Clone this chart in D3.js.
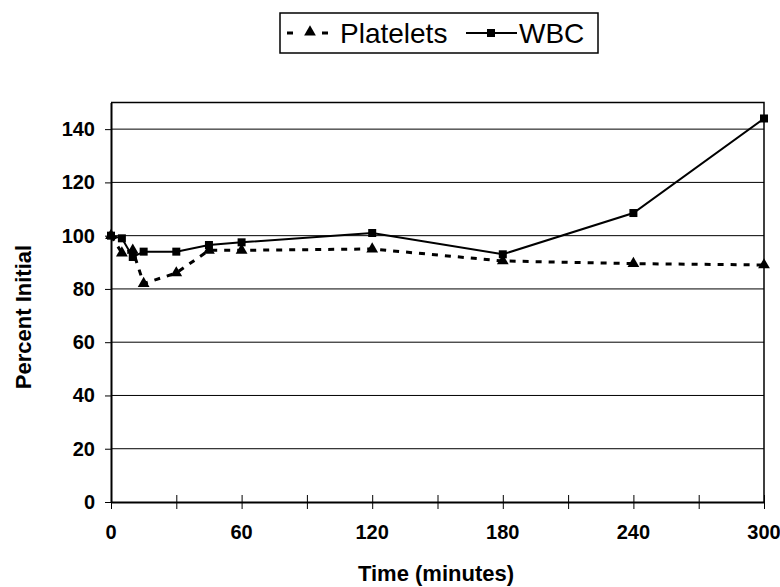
<html>
<head>
<style>
  body { margin: 0; background: #fff; }
  svg text { font-family: "Liberation Sans", Arial, sans-serif; fill: #000; }
  .axis text { font-weight: bold; font-size: 20px; }
  .grid line { stroke: #000; stroke-width: 1px; }
</style>
<script src="https://cdnjs.cloudflare.com/ajax/libs/d3/7.8.5/d3.min.js"></script>
</head>
<body>
<div id="chart"></div>
<script>
var times = [0, 5, 10, 15, 30, 45, 60, 120, 180, 240, 300];
var platelets = [100, 93.5, 94.5, 82, 86, 94.5, 94.5, 95, 90.5, 89.5, 89];
var wbc = [100, 99, 92, 94, 94, 96.5, 97.5, 101, 93, 108.5, 144];
var yTicks = [0, 20, 40, 60, 80, 100, 120, 140];
var xLabels = [0, 60, 120, 180, 240, 300];
var xMinor = [0, 30, 60, 90, 120, 150, 180, 210, 240, 270, 300];

var width = 780, height = 587;
var pLeft = 111, pRight = 764, pTop = 102.5, pBottom = 502;

var svg = d3.select('#chart').append('svg')
    .attr('width', width).attr('height', height);

var xScale = d3.scaleLinear().domain([0, 300]).range([pLeft, pRight]);
var yScale = d3.scaleLinear().domain([0, 150]).range([pBottom, pTop]);

// gridlines
svg.append('g').attr('class', 'grid')
    .selectAll('line').data(yTicks.filter(function(d){ return d > 0; }))
    .enter().append('line')
    .attr('x1', pLeft).attr('x2', pRight)
    .attr('y1', function(d){ return yScale(d); })
    .attr('y2', function(d){ return yScale(d); });

// plot frame (top / right)
svg.append('path')
    .attr('d', 'M' + pLeft + ',' + pTop + 'H' + pRight + 'V' + pBottom)
    .attr('fill', 'none').attr('stroke', '#000').attr('stroke-width', 1.5);

// y axis
var yAxis = d3.axisLeft(yScale).tickValues(yTicks).tickSize(6).tickPadding(10).tickSizeOuter(0);
var yG = svg.append('g').attr('class', 'axis')
    .attr('transform', 'translate(' + pLeft + ',0)').call(yAxis);
yG.select('.domain').attr('stroke-width', 2);

// x axis (ticks crossing the axis)
var xAxis = d3.axisBottom(xScale).tickValues(xMinor).tickSize(0).tickFormat('');
var xG = svg.append('g').attr('class', 'axis')
    .attr('transform', 'translate(0,' + pBottom + ')').call(xAxis);
xG.select('.domain').attr('stroke-width', 2);
xG.selectAll('.tick line').attr('y1', -7).attr('y2', 7);

svg.append('g').attr('class', 'axis')
    .selectAll('text').data(xLabels).enter().append('text')
    .attr('x', function(d){ return xScale(d); })
    .attr('y', 539)
    .attr('text-anchor', 'middle')
    .text(function(d){ return d; });

// axis titles
svg.append('text')
    .attr('x', 436).attr('y', 581)
    .attr('text-anchor', 'middle')
    .style('font-weight', 'bold').style('font-size', '22px')
    .text('Time (minutes)');

svg.append('text')
    .attr('transform', 'translate(31,317) rotate(-90)')
    .attr('text-anchor', 'middle')
    .style('font-weight', 'bold').style('font-size', '22px')
    .text('Percent Initial');

// series
var line = d3.line()
    .x(function(d){ return xScale(d[0]); })
    .y(function(d){ return yScale(d[1]); });

var pData = times.map(function(t, i){ return [t, platelets[i]]; });
var wData = times.map(function(t, i){ return [t, wbc[i]]; });

svg.append('path').datum(pData)
    .attr('d', line).attr('fill', 'none')
    .attr('stroke', '#000').attr('stroke-width', 3)
    .attr('stroke-dasharray', '6,7');

svg.append('path').datum(wData)
    .attr('d', line).attr('fill', 'none')
    .attr('stroke', '#000').attr('stroke-width', 2);

var tri = d3.symbol().type(d3.symbolTriangle).size(60);
svg.selectAll('.tri').data(pData).enter().append('path')
    .attr('class', 'tri')
    .attr('d', tri)
    .attr('transform', function(d){ return 'translate(' + xScale(d[0]) + ',' + yScale(d[1]) + ')'; })
    .attr('fill', '#000');

svg.selectAll('.sq').data(wData).enter().append('rect')
    .attr('class', 'sq')
    .attr('x', function(d){ return xScale(d[0]) - 4; })
    .attr('y', function(d){ return yScale(d[1]) - 4; })
    .attr('width', 8).attr('height', 8)
    .attr('fill', '#000');

// legend
var lg = svg.append('g');
lg.append('rect')
    .attr('x', 280).attr('y', 13).attr('width', 318).attr('height', 40)
    .attr('fill', '#fff').attr('stroke', '#000').attr('stroke-width', 1.5);
lg.append('line')
    .attr('x1', 287).attr('x2', 328).attr('y1', 33).attr('y2', 33)
    .attr('stroke', '#000').attr('stroke-width', 3).attr('stroke-dasharray', '6,29');
lg.append('path').attr('d', tri)
    .attr('transform', 'translate(310,32)').attr('fill', '#000');
lg.append('text').attr('x', 340).attr('y', 43)
    .style('font-size', '28px').text('Platelets');
lg.append('line')
    .attr('x1', 466).attr('x2', 517).attr('y1', 33).attr('y2', 33)
    .attr('stroke', '#000').attr('stroke-width', 2);
lg.append('rect')
    .attr('x', 487).attr('y', 29).attr('width', 8).attr('height', 8).attr('fill', '#000');
lg.append('text').attr('x', 519).attr('y', 43)
    .style('font-size', '28px').text('WBC');
</script>
</body>
</html>
